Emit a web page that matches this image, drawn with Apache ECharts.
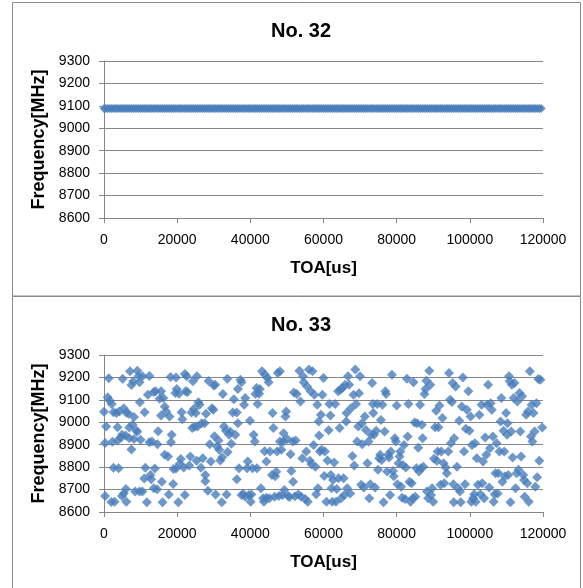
<!DOCTYPE html>
<html>
<head>
<meta charset="utf-8">
<script src="https://cdn.jsdelivr.net/npm/echarts@6/dist/echarts.min.js"></script>
<style>
  html, body { margin: 0; padding: 0; background: #fff; }
  #chart { width: 583px; height: 588px; }
</style>
</head>
<body>
<div id="chart"></div>
<script>
// Panel titles and axis names
const titles = ['No. 32', 'No. 33'];
const xName = 'TOA[us]';
const yName = 'Frequency[MHz]';

// Axis ranges
const xMin = 0, xMax = 120000, xStep = 20000;
const yMin = 8600, yMax = 9300, yStep = 100;

// No. 32: fixed-frequency emitter, pulses through the whole window
const freq32 = 9088;
const toa32 = [
  0,500,1000,1500,2000,2500,3000,3500,4000,4500,5000,5500,6000,6500,7000,7500,8000,8500,9000,9500,
  10000,10500,11000,11500,12000,12500,13000,13500,14000,14500,15000,15500,16000,16500,17000,17500,18000,18500,19000,19500,
  20000,20500,21000,21500,22000,22500,23000,23500,24000,24500,25000,25500,26000,26500,27000,27500,28000,28500,29000,29500,
  30000,30500,31000,31500,32000,32500,33000,33500,34000,34500,35000,35500,36000,36500,37000,37500,38000,38500,39000,39500,
  40000,40500,41000,41500,42000,42500,43000,43500,44000,44500,45000,45500,46000,46500,47000,47500,48000,48500,49000,49500,
  50000,50500,51000,51500,52000,52500,53000,53500,54000,54500,55000,55500,56000,56500,57000,57500,58000,58500,59000,59500,
  60000,60500,61000,61500,62000,62500,63000,63500,64000,64500,65000,65500,66000,66500,67000,67500,68000,68500,69000,69500,
  70000,70500,71000,71500,72000,72500,73000,73500,74000,74500,75000,75500,76000,76500,77000,77500,78000,78500,79000,79500,
  80000,80500,81000,81500,82000,82500,83000,83500,84000,84500,85000,85500,86000,86500,87000,87500,88000,88500,89000,89500,
  90000,90500,91000,91500,92000,92500,93000,93500,94000,94500,95000,95500,96000,96500,97000,97500,98000,98500,99000,99500,
  100000,100500,101000,101500,102000,102500,103000,103500,104000,104500,105000,105500,106000,106500,107000,107500,108000,108500,109000,109500,
  110000,110500,111000,111500,112000,112500,113000,113500,114000,114500,115000,115500,116000,116500,117000,117500,118000,118500,119000,119500
];

// No. 33: frequency-agile emitter
const toa33 = [
  0,600,300,300,1300,1000,1600,2100,2000,2600,2300,2600,2900,3400,3700,3700,4000,4200,4600,4900,
  4900,5100,5400,5400,5900,6000,6100,6100,6700,6900,6900,7100,7500,7500,7800,8000,8200,8200,8500,8800,
  9100,9100,9500,9700,9800,9700,10000,10500,10500,11100,11000,11300,11700,12000,12400,12400,12700,12900,
  13100,13600,13600,13900,14100,14500,14600,14800,15200,15600,15600,15800,16000,16200,16600,16600,17000,17500,17700,17900,
  18200,18300,18500,18900,19000,19500,19700,19900,19700,20300,20500,20700,21000,21200,21400,21800,22100,22100,22300,22600,
  22800,23300,23600,23900,24100,24300,24600,24800,25100,25400,25300,25600,25800,
  26100,26500,26700,27000,27500,27700,27700,27900,28400,28600,28900,29200,29500,29900,30000,30200,30400,30500,30900,31300,
  31500,31800,32200,32300,32500,32800,33300,33500,33700,33800,34200,34500,34800,35200,35500,35900,36300,36300,36600,36600,
  36900,37300,37600,37600,38100,38300,38600,38600,39100,
  39300,39600,39900,40100,40300,40600,40900,41200,41400,41700,41800,42000,42400,42600,42900,43200,43500,43700,43900,44000,
  44400,44400,44700,45000,45200,45400,45900,46100,46300,46600,46800,47100,47300,47500,47800,48100,48100,48500,48800,49000,
  49100,49300,49600,49800,50100,50300,50700,51000,51200,51600,51700,51900,52200,52400,52700,53100,
  53400,53700,53900,54200,54400,54600,55000,55300,55500,55700,56000,56300,56500,56700,57000,57300,57500,57800,58000,58300,
  58500,58700,58800,59000,59300,59500,59700,60000,60200,60400,60800,61100,61400,61600,61900,62000,62200,62400,62600,62900,
  63200,63400,63600,64000,64100,64400,64600,64800,65200,65500,65700,65900,66200,66300,66500,66700,67000,67300,67500,
  67900,68200,68400,68700,68900,69200,69500,69700,70000,70300,70500,70600,71000,71300,71600,72000,72300,72500,72800,73000,
  73300,73500,73600,73800,74100,74400,74700,74900,75200,75500,75700,75900,76100,76400,76700,76900,77100,77400,77700,77900,
  78200,78400,78700,79000,79200,79500,79800,80000,80200,80500,80800,81000,81200,81500,81700,
  82000,82300,82500,82800,83000,83200,83500,83800,84100,84400,84600,84900,85100,85400,85600,85900,86100,86400,86600,86900,
  87100,87300,87600,87900,88100,88300,88600,88900,89200,89400,89700,90000,90200,90500,90800,91000,91200,91400,91700,92000,
  92200,92500,92800,93000,93400,93700,94100,94300,94600,94800,95100,95300,95500,95600,95700,96100,
  96500,96800,97100,97300,97500,97800,98100,98400,98700,98900,99200,99600,99900,100200,100400,100600,100900,101200,101400,101600,
  101900,102200,102600,102900,103200,103400,103600,103900,104200,104500,104700,105000,105300,105500,105700,106000,106300,106500,106800,107000,
  107300,107600,107800,108100,108400,108600,108900,109200,109400,109600,109900,110200,110300,110500,110700,110900,111100,111300,111500,111700,
  112000,112200,112500,112800,113000,113300,113600,113800,114000,114300,114600,114800,115000,115400,115700,115900,116100,116400,116700,116900,
  117100,117400,117700,117900,118200,118400,118700,119000,119300,119800
];
const freq33 = [
  9047,8981,8908,8671,9196,9112,9096,9082,8645,9045,8913,8797,8646,9041,8978,8919,8795,9048,8931,8944,
  8671,9194,9063,8683,8941,8702,8646,9044,9038,8929,8977,9227,9166,8879,8989,9183,8925,9024,8691,8963,
  9230,8958,9206,9179,9089,8691,8922,8691,9205,9045,8749,8797,8643,9123,9206,8911,8765,8746,
  8914,9135,8706,8794,9138,8701,8902,8960,9105,9138,9030,8735,8643,9108,9069,8855,9048,8847,8678,9026,
  9202,8911,8944,8725,8792,9131,9200,9148,8794,8643,9127,8815,8836,9045,9013,8798,8676,9215,9138,9205,
  9135,8807,8847,9044,8974,9183,9060,8980,9041,9205,8828,8981,9089,
  9078,8797,8996,8840,8996,8765,8737,9038,8695,9184,8902,8825,9063,9056,9164,8938,9167,8678,8892,8919,
  8877,8830,8643,8844,9126,8981,8962,8678,9194,8867,8944,8959,8904,9044,9103,8944,9044,8746,8996,9148,
  8795,9190,9178,8676,8680,9078,9108,8668,8795,
  8825,8676,9007,8646,8678,8795,8944,8914,9126,9153,8795,9081,9127,9148,8706,9227,8661,8646,8871,9212,
  8825,8664,9197,9179,8661,8870,8765,9041,8974,8668,8759,8780,8870,9220,8671,9227,8914,8877,8676,8914,
  8951,8698,9026,9048,8926,8671,8667,8858,8783,8914,8735,9133,8670,8919,9126,8678,
  9230,9093,8668,8840,9205,9178,8658,8870,9160,8646,9235,8828,9138,8813,9227,8899,9123,8802,8679,9078,
  8706,9004,8941,8870,9034,8877,9123,9197,8761,8870,8646,8830,8965,9081,9030,8765,8706,8646,8743,8821,
  9081,8646,8703,9138,8750,8974,9145,8661,9153,8750,8676,9167,9004,9041,8706,9205,9167,8683,9063,
  8850,9123,8807,9235,9081,8914,8981,9130,9205,8721,8996,8902,8709,9026,8966,8817,8914,8661,8724,8944,
  9175,9081,9041,8944,8709,8962,9081,8788,8840,8855,9010,8832,9078,8643,8959,9138,9126,8781,8855,8843,
  8676,8870,9212,8783,8759,8929,8914,9075,8724,8817,8847,8870,8713,8664,8810,
  8899,8658,8798,9194,8937,9081,8735,8646,8728,8661,9178,8999,8668,8795,8996,8887,8781,9078,8795,8989,
  8929,8802,9126,9148,9185,8691,8661,9230,9167,8676,8706,8646,8837,8978,9051,8828,8870,8978,9075,8721,
  8870,9019,8817,8728,8798,8773,8870,9220,9101,8907,9090,9175,8724,8643,8929,9160,
  8802,8706,9007,8691,8643,9070,9200,8870,8724,8971,9056,9138,8962,9026,8646,8899,8661,8679,8907,8646,
  8840,8721,9034,8679,9078,8728,8825,8661,8932,8855,9078,9167,8709,8884,9085,9056,8937,8646,8679,8773,
  8907,8683,8773,8870,9004,9108,8735,8962,8870,8759,9041,8944,8996,8765,9205,9183,8643,8959,9167,8843,
  9108,9175,8706,8773,9093,8788,9131,8959,8847,9116,8765,8743,8668,9034,8728,9048,8646,9227,8937,9078,
  8914,9041,8959,8713,9085,8755,9193,8828,9190,8977
];

const seriesColor = '#4a7ebb';
const gridColor = '#868686';
const fontFam = '"Liberation Sans", Arial, sans-serif';

const chart = echarts.init(document.getElementById('chart'), null, { renderer: 'canvas' });

// Plain integers, no thousands separators
const plain = v => String(v);

function xAxisCfg(gi) {
  return {
    type: 'value', gridIndex: gi, min: xMin, max: xMax, interval: xStep,
    axisLine: { show: true, onZero: false, lineStyle: { color: gridColor, width: 1 } },
    axisTick: { show: true, inside: false, length: 5, lineStyle: { color: gridColor } },
    axisLabel: { color: '#000', fontSize: 14, fontFamily: fontFam, margin: 15, formatter: plain },
    splitLine: { show: false },
    name: xName, nameLocation: 'middle', nameGap: 42,
    nameTextStyle: { color: '#000', fontSize: 17, fontWeight: 'bold', fontFamily: fontFam }
  };
}
function yAxisCfg(gi) {
  return {
    type: 'value', gridIndex: gi, min: yMin, max: yMax, interval: yStep,
    axisLine: { show: true, onZero: false, lineStyle: { color: gridColor, width: 1 } },
    axisTick: { show: true, inside: false, length: 5, lineStyle: { color: gridColor } },
    axisLabel: { color: '#000', fontSize: 14, fontFamily: fontFam, margin: 14, formatter: plain },
    splitLine: { show: true, lineStyle: { color: gridColor, width: 1 } },
    name: yName, nameLocation: 'middle', nameGap: 47, nameRotate: 90,
    nameTextStyle: { color: '#000', fontSize: 18, fontWeight: 'bold', fontFamily: fontFam }
  };
}

chart.setOption({
  animation: false,
  backgroundColor: '#fff',
  title: [
    { text: titles[0], left: 296, top: 16, textAlign: 'center',
      textStyle: { color: '#000', fontSize: 20, fontWeight: 'bold', fontFamily: fontFam } },
    { text: titles[1], left: 296, top: 310, textAlign: 'center',
      textStyle: { color: '#000', fontSize: 20, fontWeight: 'bold', fontFamily: fontFam } }
  ],
  graphic: [
    { type: 'rect', shape: { x: 12.5, y: 2.5, width: 568, height: 293.5 },
      style: { fill: 'none', stroke: '#8a8a8a', lineWidth: 1 }, silent: true },
    { type: 'rect', shape: { x: 12.5, y: 296.5, width: 568, height: 300 },
      style: { fill: 'none', stroke: '#8a8a8a', lineWidth: 1 }, silent: true }
  ],
  grid: [
    { left: 104, top: 61, width: 439, height: 157 },
    { left: 104, top: 355, width: 439, height: 157 }
  ],
  xAxis: [xAxisCfg(0), xAxisCfg(1)],
  yAxis: [yAxisCfg(0), yAxisCfg(1)],
  series: [
    { type: 'scatter', xAxisIndex: 0, yAxisIndex: 0, symbol: 'diamond', symbolSize: 9,
      itemStyle: { color: seriesColor },
      data: toa32.map(t => [t, freq32]) },
    { type: 'scatter', xAxisIndex: 1, yAxisIndex: 1, symbol: 'diamond', symbolSize: 10,
      itemStyle: { color: seriesColor },
      data: toa33.map((t, i) => [t, freq33[i]]) }
  ]
});
</script>
</body>
</html>
